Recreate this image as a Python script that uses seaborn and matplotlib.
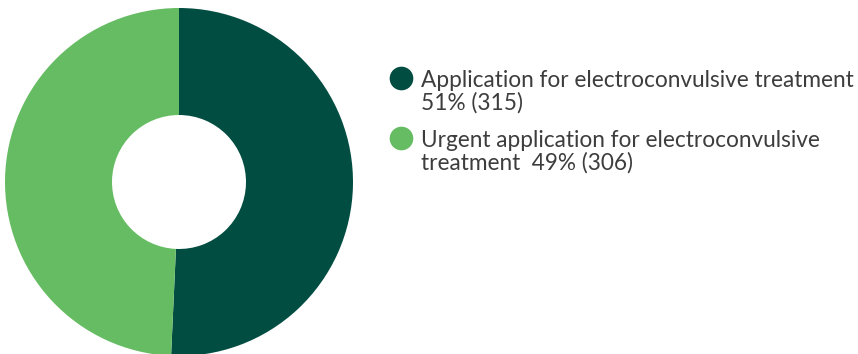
import numpy as np
import matplotlib.pyplot as plt
import seaborn as sns

labels = ["Application for electroconvulsive treatment\n51% (315)",
          "Urgent application for electroconvulsive\ntreatment  49% (306)"]
counts = [315, 306]
colors = ["#024d42", "#66bc62"]

sns.set_theme(style="white")
plt.rcParams['font.family'] = ['Lato', 'DejaVu Sans']

W, H = 858, 354
fig = plt.figure(figsize=(W / 100, H / 100), dpi=100)

# donut axes: centre (179, 182) px, radius 174 px
cx, cy, r = 179, 182, 174
ax = fig.add_axes([(cx - r) / W, (H - cy - r) / H, 2 * r / W, 2 * r / H])
ax.pie(counts, colors=colors, startangle=90, counterclock=False,
       wedgeprops=dict(width=0.615, linewidth=0))
ax.set_xlim(-1, 1)
ax.set_ylim(-1, 1)
ax.set_aspect('equal')
ax.axis('off')

# legend drawn by hand so the marker sits on the first line
lax = fig.add_axes([0, 0, 1, 1])
lax.set_xlim(0, W)
lax.set_ylim(H, 0)
lax.axis('off')
baselines = [87, 147]
for lab, col, b in zip(labels, colors, baselines):
    lax.scatter([401], [b - 9], s=290, color=col, linewidths=0)
    for i, line in enumerate(lab.split("\n")):
        lax.text(421, b + 23 * i, line, fontsize=16.3, color="#3d3d3d",
                 va='baseline', ha='left')

fig.savefig("out.png", dpi=100)
